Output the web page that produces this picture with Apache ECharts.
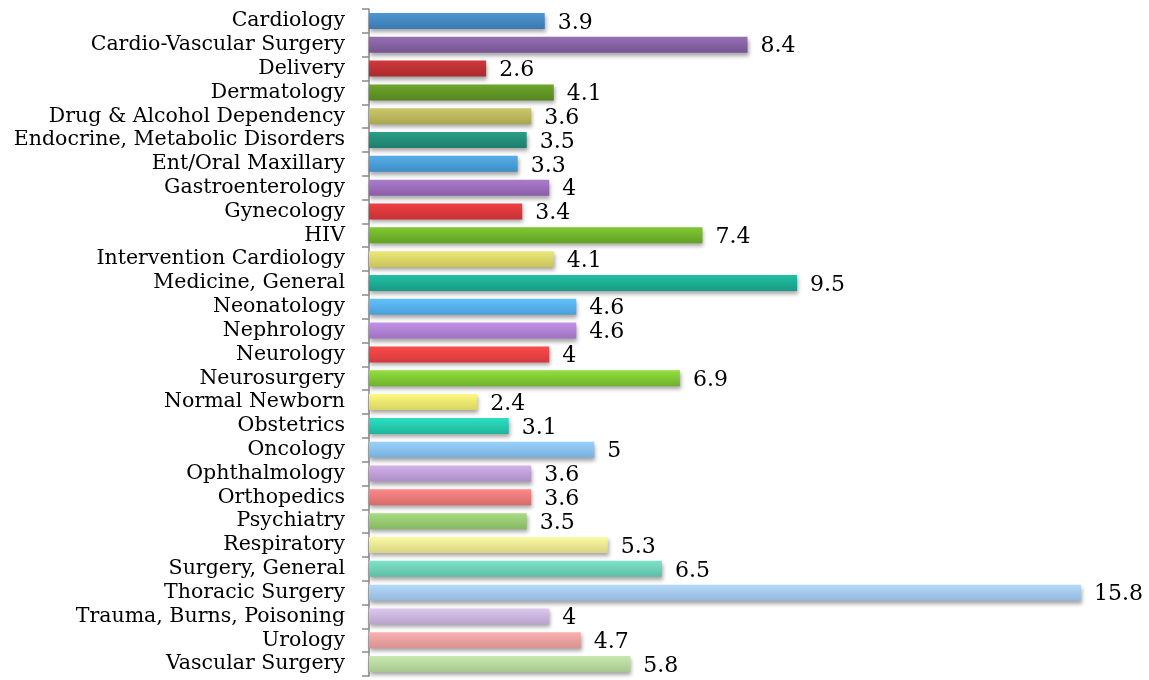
<!DOCTYPE html>
<html>
<head>
<meta charset="utf-8">
<script src="https://cdn.jsdelivr.net/npm/echarts@6/dist/echarts.min.js"></script>
<style>html,body{margin:0;padding:0;background:#fff}#c{width:1149px;height:680px}</style>
</head>
<body>
<div id="c"></div>
<script>
const categories = ["Cardiology","Cardio-Vascular Surgery","Delivery","Dermatology","Drug & Alcohol Dependency","Endocrine, Metabolic Disorders","Ent/Oral Maxillary","Gastroenterology","Gynecology","HIV","Intervention Cardiology","Medicine, General","Neonatology","Nephrology","Neurology","Neurosurgery","Normal Newborn","Obstetrics","Oncology","Ophthalmology","Orthopedics","Psychiatry","Respiratory","Surgery, General","Thoracic Surgery","Trauma, Burns, Poisoning","Urology","Vascular Surgery"];
const values = [3.9,8.4,2.6,4.1,3.6,3.5,3.3,4,3.4,7.4,4.1,9.5,4.6,4.6,4,6.9,2.4,3.1,5,3.6,3.6,3.5,5.3,6.5,15.8,4,4.7,5.8];

// [top, bottom] gradient colours, one per bar
const barColors = [
  ["#4f97d3","#3a78b0"],["#9470b3","#765591"],["#d0393d","#a82a2e"],["#6fa62c","#558520"],["#cbc86a","#a9a650"],["#2a9e88","#1d7d6b"],
  ["#58aee8","#3e8dc6"],["#ac7ccc","#8a5ea8"],["#ee4044","#c83034"],["#80c832","#62a024"],["#ece878","#c8c45a"],["#22c0a4","#189a84"],
  ["#62c2fa","#4a9ed8"],["#c292e6","#9e72c0"],["#fc4a4c","#d43a3c"],["#92e03e","#6eb22c"],["#fcf880","#d8d460"],["#2ce0c2","#1eb69c"],
  ["#98d2fc","#78b0dc"],["#d2b0ea","#ae8ec6"],["#fc8888","#d86a6a"],["#a8dc80","#86b862"],["#fcfaa4","#d8d482"],["#7ee2c8","#5ebea6"],
  ["#b6dafc","#94b8dc"],["#dcc8ee","#b8a4ca"],["#fcb0b0","#d89090"],["#c8e8b0","#a6c890"]
];

const chart = echarts.init(document.getElementById('c'), null, {renderer:'canvas'});
chart.setOption({
  animation:false,
  grid:{left:369,right:59,top:9,bottom:4,containLabel:false},
  xAxis:{type:'value',min:0,max:16,show:false},
  yAxis:{
    type:'category',data:categories,inverse:true,
    axisLine:{show:true,lineStyle:{color:'#8c8c8c',width:1.5}},
    axisTick:{show:true,length:7,interval:0,lineStyle:{color:'#8c8c8c',width:1.5}},
    axisLabel:{color:'#000',fontFamily:'DejaVu Serif',fontSize:20.5,margin:24,interval:0,hideOverlap:false},
    splitLine:{show:false}
  },
  series:[{
    type:'bar',barWidth:16,
    data:values.map((v,i)=>({value:v,itemStyle:{color:new echarts.graphic.LinearGradient(0,0,0,1,[{offset:0,color:barColors[i][0]},{offset:1,color:barColors[i][1]}])}})),
    itemStyle:{shadowColor:'rgba(0,0,0,0.35)',shadowBlur:4,shadowOffsetY:3,shadowOffsetX:1},
    label:{show:true,position:'right',distance:13,color:'#000',fontFamily:'DejaVu Serif',fontSize:22,offset:[0,2]}
  }]
});
</script>
</body>
</html>
